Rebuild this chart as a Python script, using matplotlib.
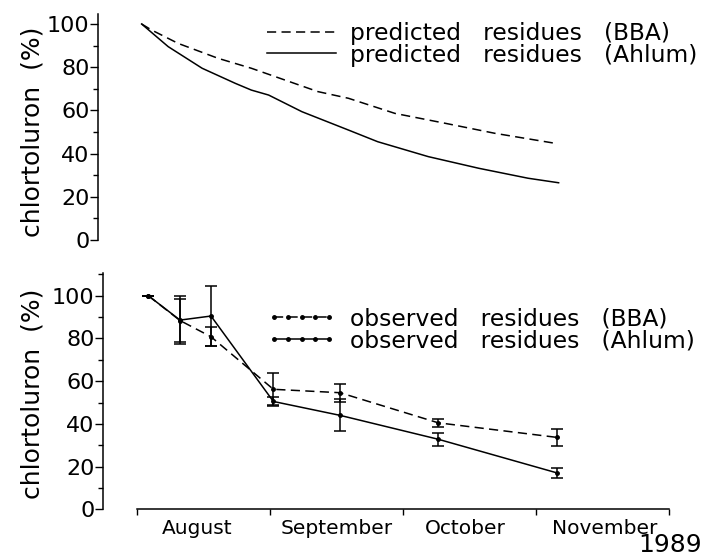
import matplotlib.pyplot as plt
from matplotlib.ticker import MultipleLocator, FixedLocator, NullFormatter

# x in months from 1 August 1989 (0 = Aug 1, 1 = Sep 1, ...)
pred_x_bba = [0.035, 0.11, 0.31, 0.61, 0.86, 1.11, 1.36, 1.59, 1.94, 2.32, 2.69, 3.14]
pred_bba = [100, 97.2, 91, 84.1, 79.5, 74.1, 68.7, 65.6, 58.6, 54, 49.4, 44.8]

pred_x_ahl = [0.035, 0.235, 0.49, 0.74, 0.86, 0.99, 1.24, 1.59, 1.81, 2.19, 2.57, 2.94, 3.17]
pred_ahl = [100, 89.5, 79.5, 72.5, 69.4, 67.1, 59.4, 50.9, 45.5, 38.6, 33.2, 28.6, 26.5]

obs_x = [0.085, 0.323, 0.556, 1.025, 1.526, 2.265, 3.155]
obs_bba = [100, 88.4, 80.8, 56.2, 54.6, 40.5, 33.7]
err_bba = [0, 10, 4.5, 7.5, 4.2, 2, 4]
obs_ahl = [100, 88.6, 90.5, 50.5, 44, 32.8, 17.1]
err_ahl = [0, 11.3, 13.9, 2, 7.5, 3, 2.4]

months = ["August", "September", "October", "November"]

plt.rcParams['font.family'] = ['DejaVu Sans']

fig = plt.figure(figsize=(7.09, 5.57), dpi=100)
ax1 = fig.add_axes([0.1382, 0.5691, 0.8054, 0.4057])
ax2 = fig.add_axes([0.1453, 0.0856, 0.7983, 0.4237])

ax1.plot(pred_x_bba, pred_bba, color='k', lw=1.1, dashes=(6, 3.5),
         label="predicted   residues   (BBA)")
ax1.plot(pred_x_ahl, pred_ahl, color='k', lw=1.1,
         label="predicted   residues   (Ahlum)")
ax1.set_xlim(-0.293, 4.0)
ax1.set_ylim(0, 104.6)
ax1.spines[['top', 'right', 'bottom']].set_visible(False)
ax1.set_xticks([])

# error bars only, lines drawn separately so the legend shows plain handles
ax2.errorbar(obs_x, obs_bba, yerr=err_bba, fmt='none', ecolor='k',
             capsize=4.5, elinewidth=1.1, capthick=1.1)
ax2.errorbar(obs_x, obs_ahl, yerr=err_ahl, fmt='none', ecolor='k',
             capsize=4.5, elinewidth=1.1, capthick=1.1)
ax2.plot(obs_x, obs_bba, color='k', lw=1.1, dashes=(6, 3.5), marker='o', ms=2.5,
         label="observed   residues   (BBA)")
ax2.plot(obs_x, obs_ahl, color='k', lw=1.1, marker='o', ms=2.5,
         label="observed   residues   (Ahlum)")
ax2.set_xlim(-0.256, 4.0)
ax2.set_ylim(0, 110.5)
ax2.spines[['top', 'right']].set_visible(False)
ax2.spines['bottom'].set_bounds(0, 4)
ax2.xaxis.set_major_locator(FixedLocator([0, 1, 2, 3, 4]))
ax2.xaxis.set_major_formatter(NullFormatter())
ax2.xaxis.set_minor_locator(FixedLocator([0.45, 1.5, 2.47, 3.52]))
ax2.set_xticklabels(months, minor=True, fontsize=14.5)
ax2.tick_params(axis='x', which='major', direction='out', length=4, width=1)
ax2.tick_params(axis='x', which='minor', length=0, pad=7)

for ax in (ax1, ax2):
    ax.set_yticks([0, 20, 40, 60, 80, 100])
    ax.yaxis.set_minor_locator(MultipleLocator(10))
    ax.tick_params(axis='y', which='major', direction='out', length=5.5, width=1,
                   labelsize=16, pad=0.5)
    ax.tick_params(axis='y', which='minor', direction='out', length=3.5, width=1)
    ax.spines['left'].set_linewidth(1.1)
    ax.spines['bottom'].set_linewidth(1.1)
    ax.set_ylabel("chlortoluron  (%)", fontsize=18)

ax1.yaxis.set_label_coords(-0.094, 0.478)
ax2.yaxis.set_label_coords(-0.104, 0.489)

ax1.legend(loc='upper left', bbox_to_anchor=(0.296, 0.965), frameon=False,
           fontsize=16.8, handlelength=2.95, handletextpad=0.62, labelspacing=-0.06,
           borderpad=0, borderaxespad=0)
ax2.legend(loc='upper left', bbox_to_anchor=(0.29, 0.855), frameon=False,
           fontsize=16.8, handlelength=2.95, handletextpad=0.62, labelspacing=-0.06,
           borderpad=0, borderaxespad=0, numpoints=5)

fig.text(702 / 709, 1 - 552 / 557, "1989", ha='right', va='baseline', fontsize=18)

fig.savefig("out.png", dpi=100)
